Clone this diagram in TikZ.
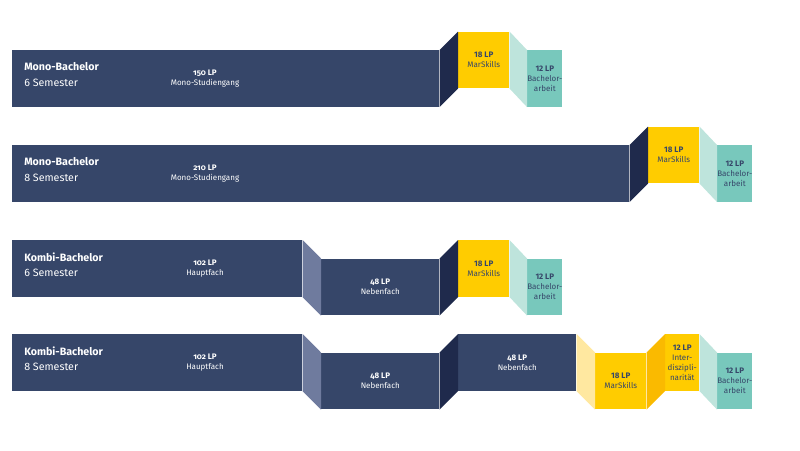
\documentclass[tikz,border=0pt]{standalone}
\usepackage{fontspec}
\setmainfont{Fira Sans}
\newfontfamily\oldnum{Fira Sans}[Numbers=OldStyle]
\usetikzlibrary{positioning}

\begin{document}
\begin{tikzpicture}[x=0.75pt,y=-0.75pt]
  \definecolor{stnavy}{RGB}{54,70,105}
  \definecolor{stdark}{RGB}{31,42,76}
  \definecolor{stslate}{RGB}{111,123,158}
  \definecolor{styellow}{RGB}{255,204,0}
  \definecolor{storange}{RGB}{250,186,0}
  \definecolor{stpaleyellow}{RGB}{255,232,160}
  \definecolor{stteal}{RGB}{120,200,188}
  \definecolor{stpaleteal}{RGB}{190,228,220}
  \tikzset{
    blk/.style={anchor=north west,inner sep=0pt,minimum height=42.4pt,align=center,
      font=\fontsize{6}{7.4}\selectfont},
    navyblk/.style={blk,fill=stnavy,text=white,font=\fontsize{6}{7.6}\selectfont\oldnum},
    ysblk/.style={blk,fill=styellow,text=stnavy},
    bablk/.style={blk,fill=stteal,text=stnavy},
    title/.style={anchor=west,align=left,text=white,inner sep=0pt,font=\fontsize{8}{11.3}\selectfont},
    lplab/.style={align=center,text=white,inner sep=0pt,font=\fontsize{6}{7.6}\selectfont\oldnum}
  }
  \newcommand{\fold}[3]{\fill[#1] (#2.north east) -- (#3.north west) -- (#3.south west) -- (#2.south east) -- cycle;}
  \useasboundingbox (0,0) rectangle (800,450);

  % Mono-Bachelor, 6 Semester
  \node[navyblk,minimum width=320.25pt] (mono6) at (12,50) {};
  \node[ysblk,minimum width=38.25pt] (ys1) at (458,31.5) {\textbf{18 LP}\\MarSkills};
  \node[bablk,minimum width=26.25pt] (ba1) at (527,50) {\textbf{12 LP}\\Bachelor-\\arbeit};
  \fold{stdark}{mono6}{ys1}
  \fold{stpaleteal}{ys1}{ba1}
  \node[title] (t1) at (24,74.5) {\textbf{Mono-Bachelor}\\6 Semester};
  \node[lplab] (lp1) at (205,78.5) {\textbf{150 LP}\\Mono-Studiengang};

  % Mono-Bachelor, 8 Semester
  \node[navyblk,minimum width=462.75pt] (mono8) at (12,145) {};
  \node[ysblk,minimum width=38.25pt] (ys2) at (648,126.5) {\textbf{18 LP}\\MarSkills};
  \node[bablk,minimum width=26.25pt] (ba2) at (717,145) {\textbf{12 LP}\\Bachelor-\\arbeit};
  \fold{stdark}{mono8}{ys2}
  \fold{stpaleteal}{ys2}{ba2}
  \node[title] (t2) at (24,169.5) {\textbf{Mono-Bachelor}\\8 Semester};
  \node[lplab] (lp2) at (205,173.5) {\textbf{210 LP}\\Mono-Studiengang};

  % Kombi-Bachelor, 6 Semester
  \node[navyblk,minimum width=217.5pt] (kombi6) at (12,240) {};
  \node[navyblk,minimum width=88.5pt] (nf3) at (321,258.5) {\textbf{48 LP}\\Nebenfach};
  \node[ysblk,minimum width=38.25pt] (ys3) at (458,240) {\textbf{18 LP}\\MarSkills};
  \node[bablk,minimum width=26.25pt] (ba3) at (527,258.5) {\textbf{12 LP}\\Bachelor-\\arbeit};
  \fold{stslate}{kombi6}{nf3}
  \fold{stdark}{nf3}{ys3}
  \fold{stpaleteal}{ys3}{ba3}
  \node[title] (t3) at (24,264.5) {\textbf{Kombi-Bachelor}\\6 Semester};
  \node[lplab] (lp3) at (205,268.5) {\textbf{102 LP}\\Hauptfach};

  % Kombi-Bachelor, 8 Semester
  \node[navyblk,minimum width=217.5pt] (kombi8) at (12,334) {};
  \node[navyblk,minimum width=88.5pt] (nf4) at (321,352.5) {\textbf{48 LP}\\Nebenfach};
  \node[navyblk,minimum width=88.5pt] (nf4b) at (458,334) {\textbf{48 LP}\\Nebenfach};
  \node[ysblk,minimum width=38.25pt] (ys4) at (595,352.5) {\textbf{18 LP}\\MarSkills};
  \node[ysblk,minimum width=25.5pt] (id4) at (665,334) {\textbf{12 LP}\\Inter-\\diszipli-\\narität};
  \node[bablk,minimum width=26.25pt] (ba4) at (717,352.5) {\textbf{12 LP}\\Bachelor-\\arbeit};
  \fold{stslate}{kombi8}{nf4}
  \fold{stdark}{nf4}{nf4b}
  \fold{stpaleyellow}{nf4b}{ys4}
  \fold{storange}{ys4}{id4}
  \fold{stpaleteal}{id4}{ba4}
  \node[title] (t4) at (24,358.5) {\textbf{Kombi-Bachelor}\\8 Semester};
  \node[lplab] (lp4) at (205,362.5) {\textbf{102 LP}\\Hauptfach};
\end{tikzpicture}
\end{document}
